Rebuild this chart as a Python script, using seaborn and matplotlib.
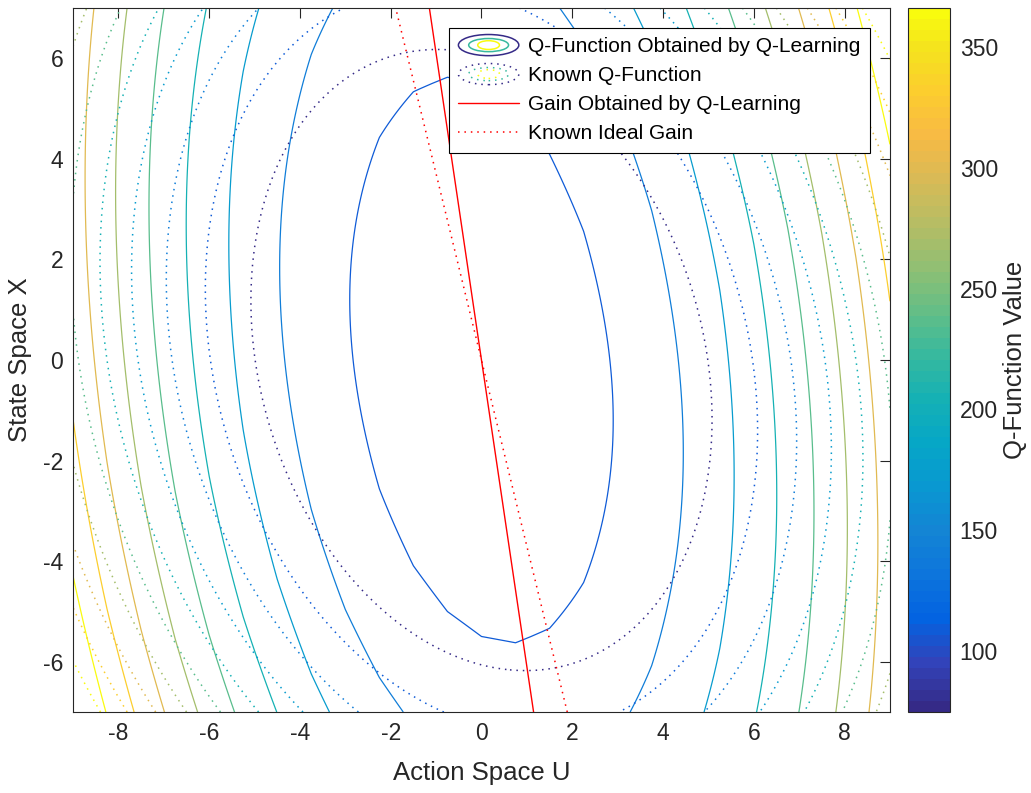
import numpy as np
import matplotlib
matplotlib.use("Agg")
import matplotlib.pyplot as plt
import seaborn as sns
from matplotlib.colors import LinearSegmentedColormap, Normalize
from matplotlib.patches import Ellipse
from matplotlib.lines import Line2D
from matplotlib.legend_handler import HandlerBase
import matplotlib.cm as cm

# Quadratic Q-function Q(x,u) = Hxx*x^2 + 2*Hxu*x*u + Huu*u^2 + c
q_learned = [0.804, 0.333, 3.0, 82.7]   # [Hxx, Hxu, Huu, c]
q_known = [2.03, 0.471, 3.0, 0.0]

# Feedback gains (u = -K x)
gain_learned = 0.164
gain_ideal = 0.27

contour_levels = [74.6, 107.0, 139.4, 171.8, 204.2, 236.6, 269.0, 301.4, 333.8, 366.2]
cbar_ticks = [100, 150, 200, 250, 300, 350]
u_ticks = [-8, -6, -4, -2, 0, 2, 4, 6, 8]
x_ticks = [-6, -4, -2, 0, 2, 4, 6]
u_limits = [-9, 9]
x_limits = [-7, 7]

labels = ["Q-Function Obtained by Q-Learning", "Known Q-Function",
          "Gain Obtained by Q-Learning", "Known Ideal Gain"]

# parula-like colour map, 64 steps
parula_anchors = [
    [0.2081, 0.1663, 0.5292], [0.1959, 0.2645, 0.7279], [0.0117, 0.3875, 0.8820],
    [0.0498, 0.4586, 0.8641], [0.0793, 0.5200, 0.8312], [0.0343, 0.5966, 0.8199],
    [0.0228, 0.6535, 0.7768], [0.0843, 0.6928, 0.7062], [0.2178, 0.7250, 0.6193],
    [0.3953, 0.7459, 0.5244], [0.5709, 0.7485, 0.4494], [0.7184, 0.7411, 0.3905],
    [0.8507, 0.7299, 0.3360], [0.9739, 0.7314, 0.2666], [0.9880, 0.8066, 0.1794],
    [0.9589, 0.8949, 0.1132], [0.9763, 0.9831, 0.0538]]
anchor_pos = [i / 63 for i in (0, 4, 8, 12, 16, 20, 24, 28, 32, 36, 40, 44, 48, 52, 56, 60, 63)]
parula = LinearSegmentedColormap.from_list("parula", list(zip(anchor_pos, parula_anchors)), N=64)
norm = Normalize(vmin=contour_levels[0], vmax=contour_levels[-1])

DOTS = (0, (1.0, 3.2))


def q_value(coef, X, U):
    return coef[0] * X ** 2 + 2 * coef[1] * X * U + coef[2] * U ** 2 + coef[3]


sns.set_theme(style="white")
plt.rcParams["font.family"] = ["Liberation Sans", "DejaVu Sans"]
plt.rcParams["axes.unicode_minus"] = False

fig = plt.figure(figsize=(10.31, 7.93), dpi=100)
ax = fig.add_axes([0.0708, 0.1021, 0.7924, 0.8878])
cax = fig.add_axes([0.8807, 0.1021, 0.0407, 0.8878])

# learned Q evaluated on a coarse action grid, known Q on a fine grid
u_coarse = np.arange(u_limits[0], u_limits[1] + 1e-9, 0.75)
x_fine = np.linspace(x_limits[0], x_limits[1], 141)
Ul, Xl = np.meshgrid(u_coarse, x_fine)
Zl = q_value(q_learned, Xl, Ul)

Uk, Xk = np.meshgrid(np.linspace(u_limits[0], u_limits[1], 361),
                     np.linspace(x_limits[0], x_limits[1], 281))
Zk = q_value(q_known, Xk, Uk)

ax.contour(Ul, Xl, Zl, levels=contour_levels, cmap=parula, norm=norm,
           linewidths=0.9, linestyles="solid")
cs_known = ax.contour(Uk, Xk, Zk, levels=contour_levels, cmap=parula, norm=norm,
                      linewidths=1.1, linestyles="solid")
cs_known.set_linestyle(DOTS)

# gain lines u = -K x
x_line = np.array(x_limits, dtype=float)
sns.lineplot(x=-gain_learned * x_line, y=x_line, ax=ax, color="red",
             linewidth=1.0, sort=False, estimator=None)
sns.lineplot(x=-gain_ideal * x_line, y=x_line, ax=ax, color="red",
             linewidth=1.1, linestyle=DOTS, sort=False, estimator=None)

ax.set_xlim(u_limits)
ax.set_ylim(x_limits)
ax.set_xticks(u_ticks)
ax.set_yticks(x_ticks)
dark = (0.15, 0.15, 0.15)
ax.tick_params(direction="in", length=7, width=0.8, top=True, right=True,
               color=dark, labelcolor=dark, labelsize=16.5, pad=7)
for s in ax.spines.values():
    s.set_color(dark)
    s.set_linewidth(0.8)
ax.set_xlabel("Action Space U", fontsize=18.5, color=dark, labelpad=12)
ax.set_ylabel("State Space X", fontsize=18.5, color=dark, labelpad=8)


class EllipseHandler(HandlerBase):
    def __init__(self, style):
        super().__init__()
        self.style = style

    def create_artists(self, legend, orig_handle, xdescent, ydescent,
                       width, height, fontsize, trans):
        cx = width / 2 - xdescent
        cy = height / 2 - ydescent
        arts = []
        for fw, fh, t in [(1.0, 1.45, 0.0), (0.66, 0.9, 0.5), (0.36, 0.6, 1.0)]:
            e = Ellipse((cx, cy), width * fw, height * fh, fill=False,
                        edgecolor=parula(t), linewidth=1.1, linestyle=self.style)
            e.set_transform(trans)
            arts.append(e)
        return arts


h_learn = Line2D([], [])
h_known = Line2D([], [])
h_gain = Line2D([], [], color="red", lw=1.0)
h_ideal = Line2D([], [], color="red", lw=1.1, ls=DOTS)
leg = ax.legend([h_learn, h_known, h_gain, h_ideal], labels,
                handler_map={h_learn: EllipseHandler("solid"),
                             h_known: EllipseHandler(DOTS)},
                loc="upper right", bbox_to_anchor=(0.9755, 0.9716),
                borderaxespad=0, frameon=True, fancybox=False, framealpha=1,
                edgecolor="black", fontsize=15, handlelength=2.9,
                handletextpad=0.45, labelspacing=0.48, borderpad=0.45)
leg.get_frame().set_linewidth(0.8)
for t in leg.get_texts():
    t.set_color("black")

cb = fig.colorbar(cm.ScalarMappable(norm=norm, cmap=parula), cax=cax)
cb.set_ticks(cbar_ticks)
cax.tick_params(direction="in", length=7, width=0.8, right=True, left=False,
                color=dark, labelcolor=dark, labelsize=16.5, pad=7)
cb.outline.set_edgecolor(dark)
cb.outline.set_linewidth(0.8)
cb.set_label("Q-Function Value", fontsize=18.5, color=dark, labelpad=4)

fig.savefig("out.png", dpi=100)
